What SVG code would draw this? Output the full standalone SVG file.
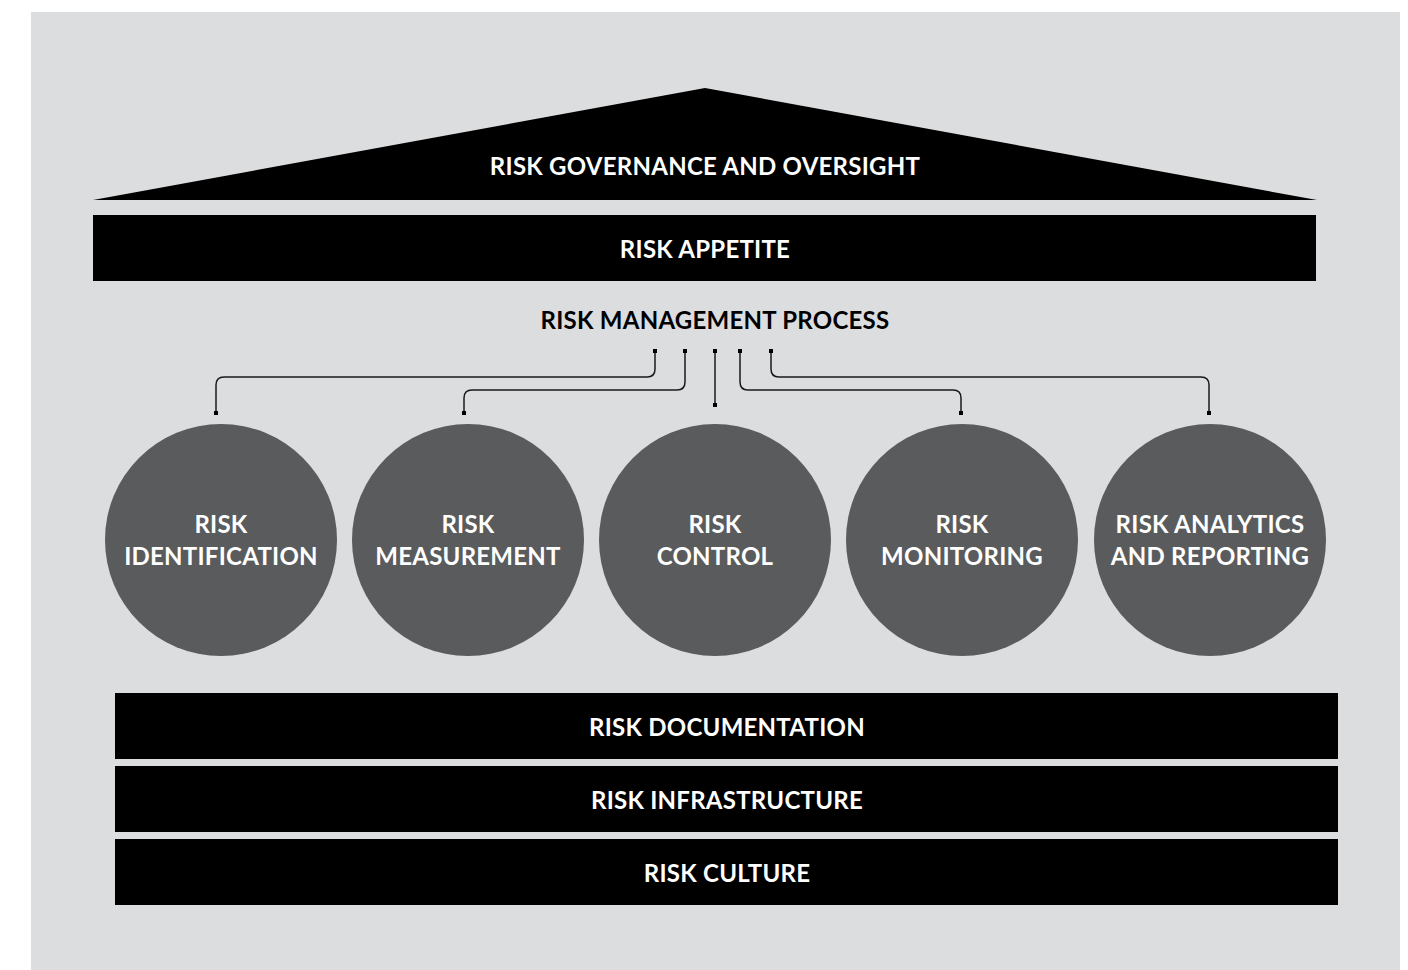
<svg xmlns="http://www.w3.org/2000/svg" width="1408" height="970" viewBox="0 0 1408 970">
<defs>
<style>
.t{font-family:Lato,"Open Sans","Liberation Sans",sans-serif;font-weight:bold;font-size:24px;letter-spacing:0.25px;fill:#ffffff;text-anchor:middle}
.d{fill:#000000}
.c{fill:#5a5b5d}
.ln{fill:none;stroke:#1a1a1a;stroke-width:1.5}
.ep{fill:#000000}
</style>
</defs>
<rect x="0" y="0" width="1408" height="970" fill="#ffffff"/>
<rect x="31" y="12" width="1369" height="958" fill="#dcdddf"/>
<g id="governance">
<polygon class="d" points="93,200 705,88 1317,200"/>
<text class="t" x="705" y="175">RISK GOVERNANCE AND OVERSIGHT</text>
</g>
<g id="appetite">
<rect class="d" x="93" y="215" width="1223" height="66"/>
<text class="t" x="705" y="258">RISK APPETITE</text>
</g>
<g id="process">
<text class="t" x="715" y="329" style="fill:#000000">RISK MANAGEMENT PROCESS</text>
</g>
<g id="connectors">
<path class="ln" d="M655,351 V369 Q655,377 647,377 H224 Q216,377 216,385 V413"/>
<path class="ln" d="M685,351 V382 Q685,390 677,390 H472 Q464,390 464,398 V413"/>
<path class="ln" d="M715,351 V405"/>
<path class="ln" d="M740,351 V382 Q740,390 748,390 H953 Q961,390 961,398 V413"/>
<path class="ln" d="M771,351 V369 Q771,377 779,377 H1201 Q1209,377 1209,385 V413"/>
<rect class="ep" x="653" y="349" width="4" height="4"/>
<rect class="ep" x="683" y="349" width="4" height="4"/>
<rect class="ep" x="713" y="349" width="4" height="4"/>
<rect class="ep" x="738" y="349" width="4" height="4"/>
<rect class="ep" x="769" y="349" width="4" height="4"/>
<rect class="ep" x="214" y="411" width="4" height="4"/>
<rect class="ep" x="462" y="411" width="4" height="4"/>
<rect class="ep" x="713" y="403" width="4" height="4"/>
<rect class="ep" x="959" y="411" width="4" height="4"/>
<rect class="ep" x="1207" y="411" width="4" height="4"/>
</g>
<g id="identification">
<circle class="c" cx="221" cy="540" r="116"/>
<text class="t" x="221" y="533">RISK</text>
<text class="t" x="221" y="565">IDENTIFICATION</text>
</g>
<g id="measurement">
<circle class="c" cx="468" cy="540" r="116"/>
<text class="t" x="468" y="533">RISK</text>
<text class="t" x="468" y="565">MEASUREMENT</text>
</g>
<g id="control">
<circle class="c" cx="715" cy="540" r="116"/>
<text class="t" x="715" y="533">RISK</text>
<text class="t" x="715" y="565">CONTROL</text>
</g>
<g id="monitoring">
<circle class="c" cx="962" cy="540" r="116"/>
<text class="t" x="962" y="533">RISK</text>
<text class="t" x="962" y="565">MONITORING</text>
</g>
<g id="analytics">
<circle class="c" cx="1210" cy="540" r="116"/>
<text class="t" x="1210" y="533">RISK ANALYTICS</text>
<text class="t" x="1210" y="565">AND REPORTING</text>
</g>
<g id="documentation">
<rect class="d" x="115" y="693" width="1223" height="66"/>
<text class="t" x="727" y="736">RISK DOCUMENTATION</text>
</g>
<g id="infrastructure">
<rect class="d" x="115" y="766" width="1223" height="66"/>
<text class="t" x="727" y="809">RISK INFRASTRUCTURE</text>
</g>
<g id="culture">
<rect class="d" x="115" y="839" width="1223" height="66"/>
<text class="t" x="727" y="882">RISK CULTURE</text>
</g>
</svg>
